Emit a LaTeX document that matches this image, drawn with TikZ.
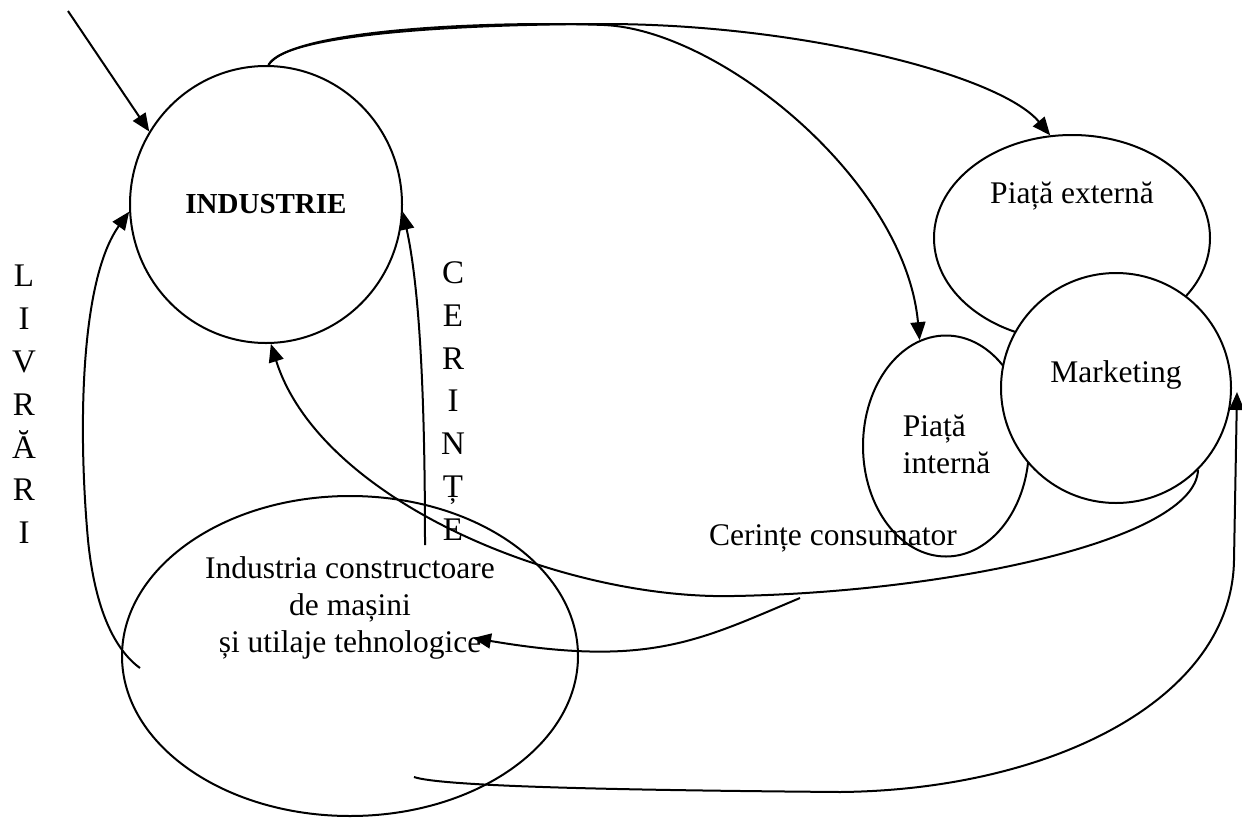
\documentclass[tikz,border=0pt]{standalone}
\usepackage{fontspec}
\setmainfont{Liberation Serif}
\usetikzlibrary{arrows.meta,shapes.geometric}
\begin{document}
\begin{tikzpicture}[x=1pt,y=-1pt,
  shapeline/.style={draw, line width=2pt, inner sep=0pt},
  conn/.style={line width=2pt, -{Triangle[length=18pt,width=15pt]}},
  txt/.style={font=\fontsize{31.5}{37}\selectfont, inner sep=0pt},
  vtxt/.style={font=\fontsize{33}{42.8}\selectfont, inner sep=0pt, align=center}]
\useasboundingbox (0,0) rectangle (1242,817);
% shapes
\node[shapeline, ellipse, minimum width=272pt, minimum height=277pt,
      font=\bfseries\fontsize{29}{34}\selectfont] (ind) at (266,204.5) {INDUSTRIE};
\node[shapeline, ellipse, minimum width=456pt, minimum height=320pt] (ice) at (350,656) {};
\node[shapeline, ellipse, minimum width=276pt, minimum height=206pt] (pe) at (1072,238) {};
\node[shapeline, ellipse, minimum width=166pt, minimum height=221pt] (pi) at (946,446) {};
\node[shapeline, circle, minimum size=230pt, fill=white] (mk) at (1116,388) {};
% texts
\node[txt, align=center] (icet) at (350,608) {Industria constructoare\\de mașini\\și utilaje tehnologice};
\node[txt, anchor=base] (pet) at (1072,203) {Piață externă};
\node[txt, align=left] (pit) at (946.5,444.5) {Piață\\internă};
\node[txt, anchor=base] (mkt) at (1116,382) {Marketing};
\node[txt, anchor=base] (cct) at (833,545) {Cerințe consumator};
\node[vtxt] (liv) at (24,404.5) {L\\I\\V\\R\\Ă\\R\\I};
\node[vtxt] (cer) at (453,401) {C\\E\\R\\I\\N\\Ț\\E};
% free ends
\coordinate (s1) at (68,11);
\coordinate (cl) at (140,668);
\coordinate (cc) at (425,545);
\coordinate (cs) at (800,598);
\coordinate (ctip) at (473,638);
\coordinate (cb) at (414,777);
\coordinate (mkin) at (1237,392);
% connectors
\draw[conn] (s1) -- (ind.148);
\draw[conn] (cl) .. controls (115,650) and (95,610) .. (88,540)
  .. controls (78,430) and (80,280) .. (ind.183);
\draw[conn] (cc) .. controls (425,400) and (420,290) .. (ind.-3);
\draw[conn] (mk.-45) .. controls (1195,540) and (950,592) .. (734,596)
  .. controls (560,600) and (320,500) .. (ind.-88);
\draw[conn] (cs) .. controls (700,640) and (650,668) .. (ctip);
\draw[conn] (cb) .. controls (440,786) and (600,790) .. (840,792)
  .. controls (1050,790) and (1232,700) .. (1234,560) -- (mkin);
\draw[conn] (ind.89) .. controls (285,32) and (480,24) .. (604,24)
  .. controls (800,24) and (1000,75) .. (pe.102);
\draw[conn] (ind.89) .. controls (292,28) and (500,21) .. (604,25)
  .. controls (720,30) and (905,180) .. (pi.104);
\end{tikzpicture}
\end{document}
